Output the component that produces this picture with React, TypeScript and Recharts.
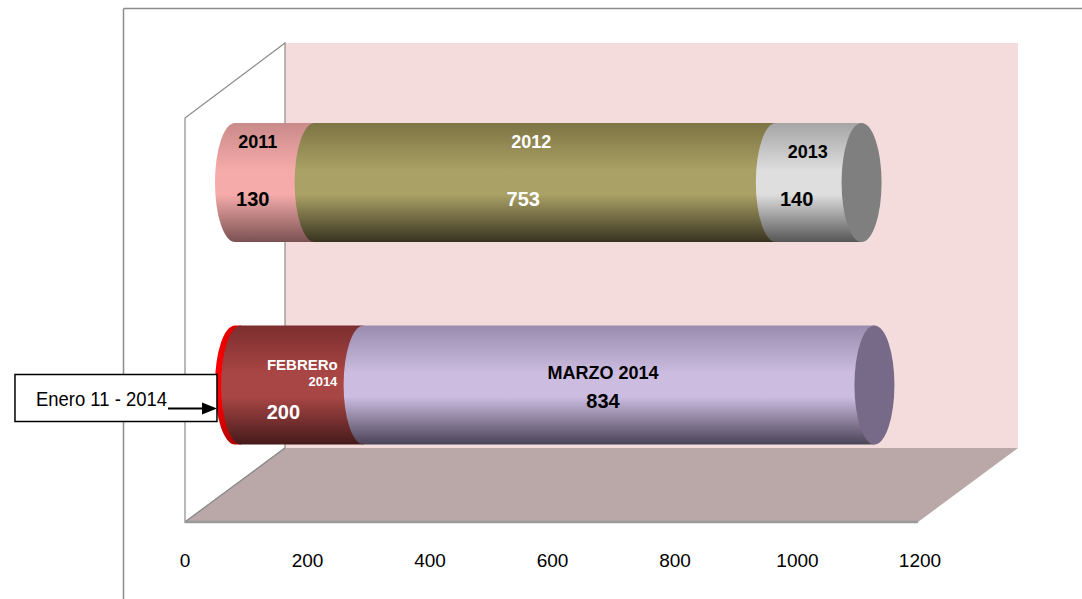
import React from "react";
import { BarChart, Bar, XAxis, YAxis, LabelList } from "recharts";

// ---------- data ----------
const rows = ["2011 - 2013", "2014"];
const firstNames = ["2011", "Enero 11 - 2014"];
const firstValues = [130, 10];
const secondNames = ["2012", "FEBRERo 2014"];
const secondValues = [753, 200];
const thirdNames = ["2013", "MARZO 2014"];
const thirdValues = [140, 834];
const xTicks = [0, 200, 400, 600, 800, 1000, 1200];

const tableData = rows.map((row, i) => ({
  row,
  s1: firstValues[i],
  s1Name: firstNames[i],
  s2: secondValues[i],
  s2Name: secondNames[i],
  s3: thirdValues[i],
  s3Name: thirdNames[i],
}));

// ---------- styles ----------
const W = 1082;
const H = 599;
const CAP_RX = 20;
const DEPTH_UNITS = 81.6; // half-depth shift of the 3D bars, in axis units
const FONT = "'Liberation Sans', Arial, Helvetica, sans-serif";

type Key = "s1" | "s2" | "s3";
const palette: Record<Key, any[]> = {
  s1: [
    { top: "#c98a89", mid: "#f5abaa", bot: "#7a5152" },
    { top: "#e00000", mid: "#ff0000", bot: "#b00000" },
  ],
  s2: [
    { top: "#7d7444", mid: "#aaa166", bot: "#38331f" },
    { top: "#7c2e2e", mid: "#a84645", bot: "#451a1a" },
  ],
  s3: [
    { top: "#a5a5a5", mid: "#dedede", bot: "#565656", cap: "#7f7f7f" },
    { top: "#9a8cae", mid: "#cbbce0", bot: "#4b4356", cap: "#766a88" },
  ],
};

function makeCylinder(key: Key, isLast: boolean) {
  return (props: any) => {
    const { x, y, width, height, index } = props;
    if (x == null || width == null || height == null) return <g />;
    const c = palette[key][index];
    const ry = height / 2;
    const gid = `grad-${key}-${index}`;
    const d = `M${x},${y} L${x + width},${y} L${x + width},${y + height} L${x},${y + height} A${CAP_RX},${ry} 0 0 1 ${x},${y} Z`;
    return (
      <g>
        <defs>
          <linearGradient id={gid} x1="0" y1="0" x2="0" y2="1">
            <stop offset="0" stopColor={c.top} />
            <stop offset="0.4" stopColor={c.mid} />
            <stop offset="0.6" stopColor={c.mid} />
            <stop offset="1" stopColor={c.bot} />
          </linearGradient>
        </defs>
        <path d={d} fill={`url(#${gid})`} />
        {isLast && <ellipse cx={x + width} cy={y + ry} rx={CAP_RX} ry={ry} fill={c.cap} />}
      </g>
    );
  };
}

function box(props: any) {
  const vb = props.viewBox && props.viewBox.width != null ? props.viewBox : props;
  const { x, y, width, height } = vb;
  return { x: Number(x), y: Number(y), w: Number(width), h: Number(height) };
}

const txt = (x: number, y: number, s: string, size: number, fill: string, anchor: any = "middle") => (
  <text
    x={x}
    y={y}
    fill={fill}
    fontSize={size}
    fontWeight="bold"
    fontFamily={FONT}
    textAnchor={anchor}
    dominantBaseline="central"
  >
    {s}
  </text>
);

const nameContent = (key: Key) => (props: any) => {
  const { x, y, w, h } = box(props);
  const idx = props.index;
  const name = String(props.value ?? "");
  const cx = x + w / 2 - CAP_RX;
  const cy = y + h / 2;
  if (key === "s1" && idx === 1) {
    // callout box for the tiny first segment of 2014
    const right = x - 18;
    return (
      <g>
        <rect x={right - 202} y={cy - 10.5} width={202} height={47} fill="#fff" stroke="#000" strokeWidth={1.5} />
        <text
          x={right - 181}
          y={cy + 21}
          fontSize={21}
          fontFamily={FONT}
          fill="#000"
          textLength={131}
          lengthAdjust="spacingAndGlyphs"
        >
          {name}
        </text>
        <line x1={right - 49} y1={cy + 23.5} x2={right - 12} y2={cy + 23.5} stroke="#000" strokeWidth={2} />
        <polygon points={`${right},${cy + 23.5} ${right - 15},${cy + 17.5} ${right - 15},${cy + 29.5}`} fill="#000" />
      </g>
    );
  }
  if (key === "s2" && idx === 1) {
    const [a, b] = name.split(" ");
    return (
      <g>
        {txt(cx + 20, cy - 20.5, a, 15, "#fff")}
        {txt(cx + 55, cy - 3.5, b, 13, "#fff", "end")}
      </g>
    );
  }
  if (idx === 0) {
    const fill = key === "s2" ? "#fff" : "#000";
    const dy = key === "s3" ? -30.5 : -40.5;
    const dx = key === "s3" ? 9 : key === "s2" ? 6 : 3;
    return txt(cx + dx, cy + dy, name, 18, fill);
  }
  // MARZO 2014
  return txt(cx + 4, cy - 12.5, name, 18, "#000");
};

const valueContent = (key: Key) => (props: any) => {
  const { x, y, w, h } = box(props);
  const idx = props.index;
  if (key === "s1" && idx === 1) return <g />;
  const cx = x + w / 2 - CAP_RX;
  const cy = y + h / 2;
  const v = String(props.value);
  if (idx === 0) {
    const fill = key === "s2" ? "#fff" : "#000";
    return txt(cx - 2, cy + 16.5, v, 20, fill);
  }
  if (key === "s2") return txt(cx + 1, cy + 26.5, v, 20, "#fff");
  return txt(cx + 4, cy + 15.5, v, 20, "#000");
};

function Backdrop() {
  const g = "#8c8c8c";
  return (
    <svg width={W} height={H} style={{ position: "absolute", left: 0, top: 0 }}>
      <line x1={123.5} y1={8.5} x2={W} y2={8.5} stroke={g} strokeWidth={1.5} />
      <line x1={123.5} y1={8.5} x2={123.5} y2={H} stroke={g} strokeWidth={1.5} />
      <rect x={285} y={43} width={733} height={405} fill="#f4dcdc" />
      <polygon points="185,118 285,43 285,448 185,522" fill="#fff" stroke={g} strokeWidth={1.2} />
      <polygon points="185,522 918,522 1018,448 285,448" fill="#b9a8a7" />
      <line x1={185} y1={522} x2={285} y2={448} stroke={g} strokeWidth={1.2} />
      <line x1={185} y1={522} x2={918} y2={522} stroke="#9a9a9a" strokeWidth={2.5} />
    </svg>
  );
}

export default function App() {
  return (
    <div style={{ position: "absolute", left: 0, top: 0, width: W, height: H, background: "#fff" }}>
      <Backdrop />
      <div style={{ position: "absolute", left: 0, top: 0 }}>
        <BarChart
          width={W}
          height={H}
          layout="vertical"
          data={tableData}
          margin={{ top: 81, right: 162, bottom: 13, left: 185 }}
          barCategoryGap={0}
        >
          <YAxis type="category" dataKey="row" hide />
          <XAxis
            xAxisId="front"
            type="number"
            domain={[0, 1200]}
            ticks={xTicks}
            allowDataOverflow
            height={100}
            axisLine={false}
            tickLine={false}
            tickSize={0}
            tickMargin={38}
            interval={0}
            tick={{ fill: "#000", fontSize: 19, fontFamily: FONT }}
          />
          <XAxis
            xAxisId="depth"
            type="number"
            domain={[-DEPTH_UNITS, 1200 - DEPTH_UNITS]}
            ticks={xTicks}
            allowDataOverflow
            hide
          />
          <Bar dataKey="s1" stackId="a" xAxisId="depth" barSize={119} isAnimationActive={false} shape={makeCylinder("s1", false)}>
            <LabelList dataKey="s1Name" content={nameContent("s1")} />
            <LabelList dataKey="s1" content={valueContent("s1")} />
          </Bar>
          <Bar dataKey="s2" stackId="a" xAxisId="depth" barSize={119} isAnimationActive={false} shape={makeCylinder("s2", false)}>
            <LabelList dataKey="s2Name" content={nameContent("s2")} />
            <LabelList dataKey="s2" content={valueContent("s2")} />
          </Bar>
          <Bar dataKey="s3" stackId="a" xAxisId="depth" barSize={119} isAnimationActive={false} shape={makeCylinder("s3", true)}>
            <LabelList dataKey="s3Name" content={nameContent("s3")} />
            <LabelList dataKey="s3" content={valueContent("s3")} />
          </Bar>
        </BarChart>
      </div>
    </div>
  );
}
